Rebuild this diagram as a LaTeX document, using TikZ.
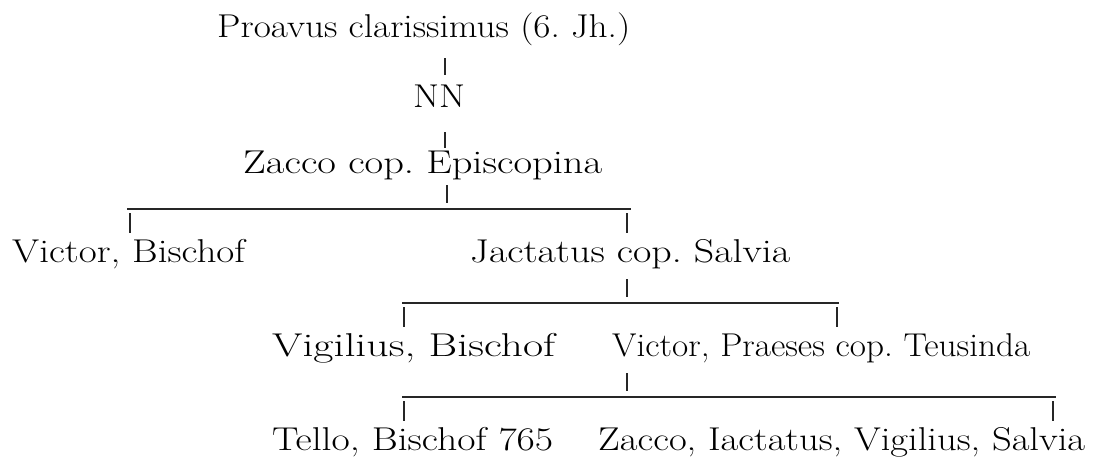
\documentclass[tikz,border=0pt]{standalone}
\newcommand{\fitto}[2]{\resizebox{#1pt}{\height}{#2}}
\begin{document}
\frenchspacing
\begin{tikzpicture}[x=1pt,y=-1pt,
  person/.style={inner sep=0pt, anchor=base west, font=\fontsize{33}{38}\selectfont},
  rule/.style={line width=1.3pt, draw=black!85}]
\useasboundingbox (0,0) rectangle (1096,458);
% names
\node[person] (p) at (217,37) {\fitto{413}{Proavus clarissimus (6. Jh.)}};
\node[person] (nn) at (413,107) {\fitto{52}{NN}};
\node[person] (z) at (243,173) {\fitto{359}{Zacco cop. Episcopina}};
\node[person] (vb) at (12,262) {\fitto{233}{Victor, Bischof}};
\node[person] (j) at (470,262) {\fitto{320}{Jactatus cop. Salvia}};
\node[person] (vg) at (272,356) {\fitto{283}{Vigilius, Bischof}};
\node[person] (vp) at (612,356) {\fitto{418}{Victor, Praeses cop. Teusinda}};
\node[person] (t) at (272,450) {\fitto{281}{Tello, Bischof 765}};
\node[person] (zi) at (598,450) {\fitto{487}{Zacco, Iactatus, Vigilius, Salvia}};
% coordinates
\coordinate (p1) at (445,58);  \coordinate (n1) at (445,75);
\coordinate (n2) at (445,132); \coordinate (z1) at (445,148);
\coordinate (z2) at (447,185); \coordinate (b1m) at (447,203);
\coordinate (b1l) at (127,209); \coordinate (b1r) at (631,209);
\coordinate (vb1) at (130,213); \coordinate (vb2) at (130,233);
\coordinate (j1) at (627,213);  \coordinate (j2) at (627,233);
\coordinate (j3) at (627,279);  \coordinate (b2m) at (627,297);
\coordinate (b2l) at (402,303); \coordinate (b2r) at (839,303);
\coordinate (vg1) at (404,307); \coordinate (vg2) at (404,327);
\coordinate (vp1) at (837,307); \coordinate (vp2) at (837,327);
\coordinate (vp3) at (627,373); \coordinate (b3m) at (627,391);
\coordinate (b3l) at (402,397); \coordinate (b3r) at (1056,397);
\coordinate (t1) at (404,401);  \coordinate (t2) at (404,421);
\coordinate (zi1) at (1053,401); \coordinate (zi2) at (1053,421);
% connectors
\draw[rule] (p1) -- (n1);
\draw[rule] (n2) -- (z1);
\draw[rule] (z2) -- (b1m);
\draw[rule] (b1l) -- (b1r);
\draw[rule] (vb1) -- (vb2);
\draw[rule] (j1) -- (j2);
\draw[rule] (j3) -- (b2m);
\draw[rule] (b2l) -- (b2r);
\draw[rule] (vg1) -- (vg2);
\draw[rule] (vp1) -- (vp2);
\draw[rule] (vp3) -- (b3m);
\draw[rule] (b3l) -- (b3r);
\draw[rule] (t1) -- (t2);
\draw[rule] (zi1) -- (zi2);
\end{tikzpicture}
\end{document}
